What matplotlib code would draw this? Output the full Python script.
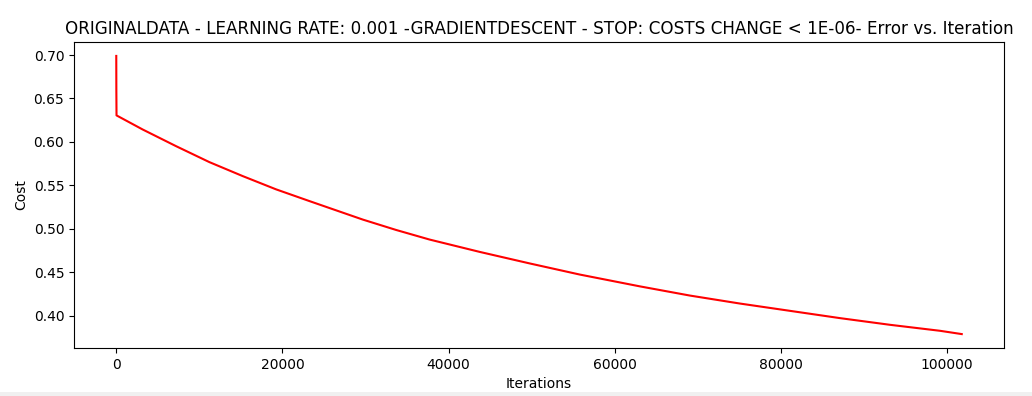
import matplotlib
matplotlib.use("Agg")
import matplotlib.pyplot as plt
from matplotlib.patches import Rectangle

# iterations and cost values
iterations = [0, 10, 30, 3170, 7190, 11205, 15217, 19241, 23253, 25663,
              29675, 33699, 37711, 43735, 49759, 55783, 63012, 69036, 75060,
              81084, 87108, 93133, 99157, 101771]
costs = [0.699, 0.66, 0.6305, 0.6143, 0.5951, 0.5767, 0.5606, 0.5453,
         0.5318, 0.5238, 0.5105, 0.4985, 0.4875, 0.4733, 0.4600, 0.4472,
         0.4336, 0.4230, 0.4138, 0.4054, 0.3970, 0.3893, 0.3824, 0.3786]

title = ("ORIGINALDATA - LEARNING RATE: 0.001 -GRADIENTDESCENT - "
         "STOP: COSTS CHANGE < 1E-06- Error vs. Iteration")

fig = plt.figure(figsize=(10.32, 3.96), dpi=100)
ax = fig.add_axes([0.0717, 0.1212, 0.9012, 0.7727])
ax.plot(iterations, costs, color="red", linewidth=1.5)
ax.set_title(title, fontsize=12.1)
ax.set_xlabel("Iterations")
ax.set_ylabel("Cost")

# grey strip of the window toolbar at the bottom edge
fig.patches.append(Rectangle((0, 0), 1, 4 / 396, transform=fig.transFigure,
                             facecolor="#f0f0f0", edgecolor="none"))

fig.savefig("out.png", dpi=100)
